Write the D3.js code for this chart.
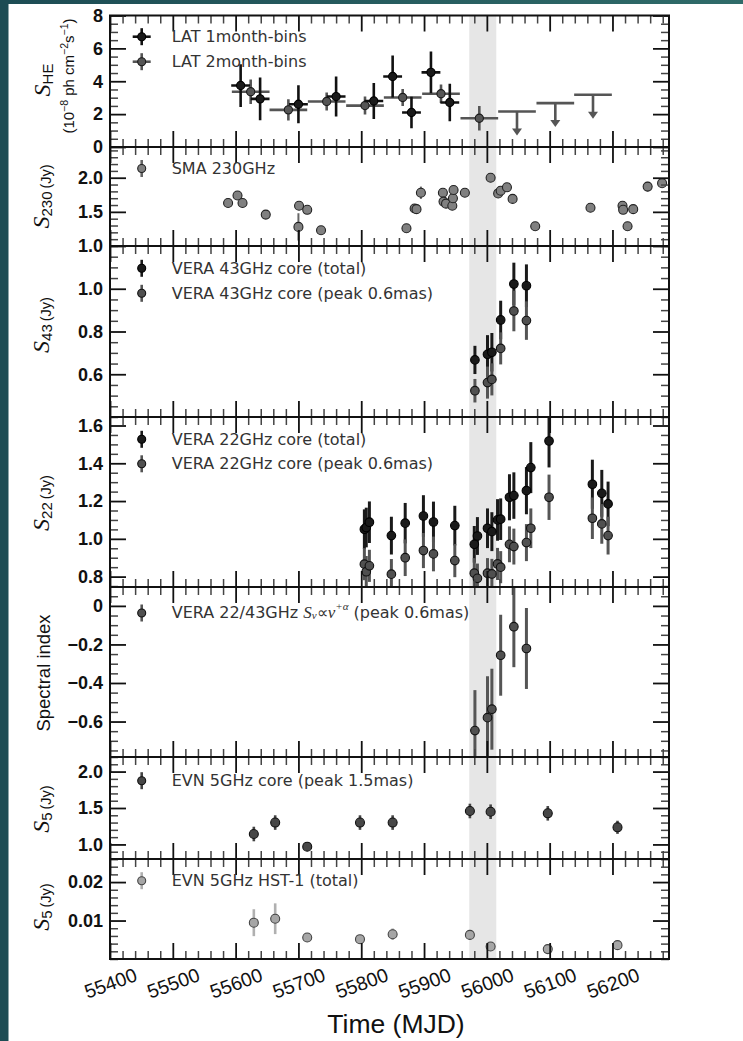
<!DOCTYPE html>
<html>
<head>
<meta charset="utf-8">
<script src="https://cdn.jsdelivr.net/npm/d3@7"></script>
<style>
  html, body { margin: 0; padding: 0; background: #fff; }
  svg { display: block; }
</style>
</head>
<body>
<svg id="fig" width="743" height="1041"></svg>
<script>
// ------------------------------------------------------------------
// Time axis (MJD)
// ------------------------------------------------------------------
const timeDomain = [55400, 56290];
const timeTicks = [55400, 55500, 55600, 55700, 55800, 55900, 56000, 56100, 56200];
const timeTickLabels = ["55400", "55500", "55600", "55700", "55800", "55900", "56000", "56100", "56200"];
const flareWindow = [55972, 56015];

// ------------------------------------------------------------------
// Fermi-LAT gamma-ray flux (1e-8 ph cm^-2 s^-1)
// ------------------------------------------------------------------
const lat1mMjd  = [55608, 55639, 55700, 55760, 55820, 55850, 55880, 55911, 55941];
const lat1mFlux = [3.74, 2.93, 2.60, 3.07, 2.80, 4.29, 2.10, 4.54, 2.71];
const lat1mErr  = [1.30, 1.30, 1.15, 1.22, 1.10, 1.28, 0.96, 1.27, 1.14];

const lat2mMjd  = [55624, 55684, 55745, 55806, 55866, 55927, 55988];
const lat2mFlux = [3.36, 2.26, 2.77, 2.52, 3.01, 3.24, 1.75];
const lat2mErr  = [0.75, 0.65, 0.55, 0.55, 0.52, 0.56, 0.75];
const lat2mUlMjd = [56048, 56109, 56169];
const lat2mUl    = [2.16, 2.67, 3.18];

// ------------------------------------------------------------------
// SMA 230 GHz (Jy)
// ------------------------------------------------------------------
const smaMjd  = [55588, 55603, 55611, 55648, 55700, 55701, 55714, 55736, 55872, 55885, 55888, 55895,
                 55930, 55931, 55935, 55945, 55946, 55947, 55965, 56006, 56018, 56022, 56032, 56041,
                 56077, 56165, 56216, 56217, 56224, 56233, 56256, 56279];
const smaFlux = [1.63, 1.74, 1.63, 1.46, 1.28, 1.59, 1.53, 1.23, 1.26, 1.55, 1.54, 1.78,
                 1.78, 1.65, 1.62, 1.59, 1.70, 1.82, 1.78, 2.00, 1.77, 1.81, 1.86, 1.69,
                 1.29, 1.56, 1.59, 1.53, 1.29, 1.54, 1.87, 1.92];
const smaErr  = [0.04, 0.05, 0.04, 0.04, 0.20, 0.04, 0.04, 0.04, 0.04, 0.05, 0.05, 0.09,
                 0.05, 0.08, 0.05, 0.05, 0.05, 0.05, 0.04, 0.05, 0.04, 0.04, 0.04, 0.05,
                 0.04, 0.04, 0.04, 0.05, 0.05, 0.04, 0.07, 0.05];

// ------------------------------------------------------------------
// VERA 43 GHz core (Jy)
// ------------------------------------------------------------------
const v43Mjd       = [55981, 56001, 56008, 56022, 56043, 56063];
const v43Total     = [0.667, 0.693, 0.703, 0.854, 1.022, 1.014];
const v43TotalErr  = [0.066, 0.090, 0.090, 0.090, 0.100, 0.100];
const v43Peak      = [0.523, 0.561, 0.576, 0.721, 0.896, 0.851];
const v43PeakErr   = [0.055, 0.075, 0.075, 0.075, 0.095, 0.090];

// ------------------------------------------------------------------
// VERA 22 GHz core (Jy)
// ------------------------------------------------------------------
const v22Mjd      = [55805, 55808, 55813, 55848, 55870, 55899, 55915, 55949, 55980, 55985, 56001,
                     56008, 56017, 56022, 56036, 56043, 56063, 56070, 56099, 56168, 56183, 56193];
const v22Total    = [1.051, 1.060, 1.088, 1.017, 1.083, 1.121, 1.089, 1.070, 0.971, 1.015, 1.056,
                     1.038, 1.100, 1.104, 1.220, 1.229, 1.255, 1.377, 1.518, 1.289, 1.241, 1.185];
const v22TotalErr = [0.105, 0.105, 0.110, 0.100, 0.107, 0.110, 0.108, 0.105, 0.097, 0.100, 0.105,
                     0.103, 0.110, 0.110, 0.122, 0.123, 0.125, 0.135, 0.140, 0.130, 0.124, 0.118];
const v22Peak     = [0.866, 0.826, 0.857, 0.813, 0.900, 0.938, 0.920, 0.885, 0.818, 0.791, 0.818,
                     0.814, 0.867, 0.850, 0.971, 0.959, 0.980, 1.056, 1.220, 1.109, 1.079, 1.017];
const v22PeakErr  = [0.085, 0.083, 0.085, 0.080, 0.097, 0.093, 0.092, 0.088, 0.080, 0.078, 0.080,
                     0.080, 0.085, 0.085, 0.095, 0.095, 0.098, 0.105, 0.120, 0.110, 0.105, 0.100];

// ------------------------------------------------------------------
// VERA 22/43 GHz spectral index (peak 0.6 mas)
// ------------------------------------------------------------------
const alphaMjd = [55981, 56001, 56008, 56022, 56043, 56063];
const alphaVal = [-0.647, -0.580, -0.536, -0.256, -0.108, -0.221];
const alphaErr = [0.21, 0.215, 0.21, 0.21, 0.21, 0.21];

// ------------------------------------------------------------------
// EVN 5 GHz: core (peak 1.5 mas) and HST-1 (total), Jy
// ------------------------------------------------------------------
const evnMjd     = [55629, 55663, 55714, 55798, 55850, 55973, 56006, 56097, 56208];
const evnCore    = [1.143, 1.300, 0.969, 1.300, 1.300, 1.459, 1.449, 1.427, 1.235];
const evnCoreErr = [0.10, 0.10, 0.06, 0.10, 0.10, 0.10, 0.10, 0.10, 0.09];
const hstFlux    = [0.00944, 0.01047, 0.0056, 0.00515, 0.00644, 0.00626, 0.00326, 0.00257, 0.0036];
const hstErr     = [0.0035, 0.0040, 0.0010, 0.0011, 0.0015, 0.0013, 0.0007, 0.0007, 0.0008];

// ------------------------------------------------------------------
// Y tick values / labels per panel
// ------------------------------------------------------------------
const heTicks = [0, 2, 4, 6, 8];            const heTickLabels = ["0", "2", "4", "6", "8"];
const smaTicks = [1.0, 1.5, 2.0];           const smaTickLabels = ["1.0", "1.5", "2.0"];
const v43Ticks = [0.6, 0.8, 1.0];           const v43TickLabels = ["0.6", "0.8", "1.0"];
const v22Ticks = [0.8, 1.0, 1.2, 1.4, 1.6]; const v22TickLabels = ["0.8", "1.0", "1.2", "1.4", "1.6"];
const alphaTicks = [-0.6, -0.4, -0.2, 0];   const alphaTickLabels = ["\u22120.6", "\u22120.4", "\u22120.2", "0"];
const coreTicks = [1.0, 1.5, 2.0];          const coreTickLabels = ["1.0", "1.5", "2.0"];
const hstTicks = [0.01, 0.02];              const hstTickLabels = ["0.01", "0.02"];

// ------------------------------------------------------------------
// Figure
// ------------------------------------------------------------------
const svg = d3.select("#fig");
const plotLeft = 110, plotRight = 669;

const tickFont = "'Liberation Sans', Arial, Helvetica, sans-serif";
const legendFont = "'DejaVu Sans', 'Bitstream Vera Sans', sans-serif";
const mathFont = "'Liberation Serif', 'Times New Roman', serif";

// page border strips
const defs = svg.append("defs");
const grad = defs.append("linearGradient").attr("id", "topStrip").attr("x1", 0).attr("x2", 1);
grad.append("stop").attr("offset", 0).attr("stop-color", "#1d4c54");
grad.append("stop").attr("offset", 1).attr("stop-color", "#2f6b69");
svg.append("rect").attr("x", 0).attr("y", 0).attr("width", 743).attr("height", 4).attr("fill", "url(#topStrip)");
svg.append("rect").attr("x", 0).attr("y", 0).attr("width", 8.5).attr("height", 1041).attr("fill", "#1d4c54");

const x = d3.scaleLinear().domain(timeDomain).range([plotLeft, plotRight]);

const panels = [
  { id: "he",    top: 15.5, bottom: 147, domain: [0, 8],          ticks: heTicks,    labels: heTickLabels,    minor: 0.5 },
  { id: "sma",   top: 147,  bottom: 246, domain: [1.0, 2.45],     ticks: smaTicks,   labels: smaTickLabels,   minor: 0.1 },
  { id: "v43",   top: 246,  bottom: 417, domain: [0.4, 1.2],      ticks: v43Ticks,   labels: v43TickLabels,   minor: 0.05 },
  { id: "v22",   top: 417,  bottom: 587, domain: [0.745, 1.645],  ticks: v22Ticks,   labels: v22TickLabels,   minor: 0.05 },
  { id: "alpha", top: 587,  bottom: 757, domain: [-0.784, 0.098], ticks: alphaTicks, labels: alphaTickLabels, minor: 0.05 },
  { id: "core",  top: 757,  bottom: 859, domain: [0.8, 2.2],      ticks: coreTicks,  labels: coreTickLabels,  minor: 0.1 },
  { id: "hst",   top: 859,  bottom: 959, domain: [0, 0.026],      ticks: hstTicks,   labels: hstTickLabels,   minor: 0.002 }
];

function minorValues(domain, step, majors) {
  const out = [];
  const i0 = Math.ceil(domain[0] / step - 1e-6), i1 = Math.floor(domain[1] / step + 1e-6);
  for (let i = i0; i <= i1; i++) {
    const v = +(i * step).toFixed(6);
    if (!majors.some(m => Math.abs(m - v) < step * 1e-3)) out.push(v);
  }
  return out;
}
const timeMinor = minorValues(timeDomain, 20, timeTicks);

function styleAxis(g, color, width) {
  g.select(".domain").remove();
  g.selectAll(".tick line").attr("stroke", color).attr("stroke-width", width);
}

// one y scale per panel
panels.forEach(p => { p.y = d3.scaleLinear().domain(p.domain).range([p.bottom, p.top]); });

// clip rectangles per panel
panels.forEach(p => {
  defs.append("clipPath").attr("id", "clip-" + p.id)
    .append("rect").attr("x", plotLeft).attr("y", p.top)
    .attr("width", plotRight - plotLeft).attr("height", p.bottom - p.top);
});

// shaded flare window in every panel
panels.forEach(p => {
  svg.append("rect")
    .attr("x", x(flareWindow[0])).attr("y", p.top)
    .attr("width", x(flareWindow[1]) - x(flareWindow[0])).attr("height", p.bottom - p.top)
    .attr("fill", "#e6e6e6");
});

// ------------------------------------------------------------------
// mark helpers
// ------------------------------------------------------------------
function layer(p) { return svg.append("g").attr("clip-path", `url(#clip-${p.id})`); }

function vErr(g, y, xs, vs, es, color, width) {
  g.append("g").selectAll("line").data(d3.range(xs.length)).join("line")
    .attr("x1", i => x(xs[i])).attr("x2", i => x(xs[i]))
    .attr("y1", i => y(vs[i] - es[i])).attr("y2", i => y(vs[i] + es[i]))
    .attr("stroke", color).attr("stroke-width", width);
}
function hErr(g, y, xs, vs, half, color, width) {
  g.append("g").selectAll("line").data(d3.range(xs.length)).join("line")
    .attr("x1", i => x(xs[i] - half)).attr("x2", i => x(xs[i] + half))
    .attr("y1", i => y(vs[i])).attr("y2", i => y(vs[i]))
    .attr("stroke", color).attr("stroke-width", width);
}
function dots(g, y, xs, vs, fill, stroke, r) {
  g.append("g").selectAll("circle").data(d3.range(xs.length)).join("circle")
    .attr("cx", i => x(xs[i])).attr("cy", i => y(vs[i])).attr("r", r)
    .attr("fill", fill).attr("stroke", stroke).attr("stroke-width", 1.1);
}

// ------------------------------------------------------------------
// Panel 1: LAT
// ------------------------------------------------------------------
{
  const p = panels[0], g = layer(p);
  // 2-month bins
  hErr(g, p.y, lat2mMjd, lat2mFlux, 30, "#555", 2.6);
  vErr(g, p.y, lat2mMjd, lat2mFlux, lat2mErr, "#555", 2.6);
  dots(g, p.y, lat2mMjd, lat2mFlux, "#555", "#1a1a1a", 4.1);
  // 2-month upper limits
  hErr(g, p.y, lat2mUlMjd, lat2mUl, 30, "#555", 2.6);
  const ul = g.append("g").selectAll("g").data(d3.range(lat2mUlMjd.length)).join("g")
    .attr("transform", i => `translate(${x(lat2mUlMjd[i])},${p.y(lat2mUl[i])})`);
  ul.append("line").attr("x1", 0).attr("x2", 0).attr("y1", 0).attr("y2", 18)
    .attr("stroke", "#555").attr("stroke-width", 2.6);
  ul.append("path").attr("d", "M-5,17 L5,17 L0,24 Z").attr("fill", "#555");
  // 1-month bins
  hErr(g, p.y, lat1mMjd, lat1mFlux, 15, "#111", 2.6);
  vErr(g, p.y, lat1mMjd, lat1mFlux, lat1mErr, "#111", 2.6);
  dots(g, p.y, lat1mMjd, lat1mFlux, "#1a1a1a", "#000", 4.1);
}

// Panel 2: SMA
{
  const p = panels[1], g = layer(p);
  vErr(g, p.y, smaMjd, smaFlux, smaErr, "#666", 2);
  dots(g, p.y, smaMjd, smaFlux, "#808080", "#222", 4.5);
}

// Panel 3: VERA 43 GHz
{
  const p = panels[2], g = layer(p);
  vErr(g, p.y, v43Mjd, v43Total, v43TotalErr, "#1a1a1a", 3);
  dots(g, p.y, v43Mjd, v43Total, "#1a1a1a", "#000", 4.3);
  vErr(g, p.y, v43Mjd, v43Peak, v43PeakErr, "#555", 3);
  dots(g, p.y, v43Mjd, v43Peak, "#505050", "#111", 4.3);
}

// Panel 4: VERA 22 GHz
{
  const p = panels[3], g = layer(p);
  vErr(g, p.y, v22Mjd, v22Total, v22TotalErr, "#1a1a1a", 3);
  dots(g, p.y, v22Mjd, v22Total, "#1a1a1a", "#000", 4.3);
  vErr(g, p.y, v22Mjd, v22Peak, v22PeakErr, "#555", 3);
  dots(g, p.y, v22Mjd, v22Peak, "#505050", "#111", 4.3);
}

// Panel 5: spectral index
{
  const p = panels[4], g = layer(p);
  vErr(g, p.y, alphaMjd, alphaVal, alphaErr, "#555", 3);
  dots(g, p.y, alphaMjd, alphaVal, "#505050", "#111", 4.3);
}

// Panel 6: EVN core
{
  const p = panels[5], g = layer(p);
  vErr(g, p.y, evnMjd, evnCore, evnCoreErr, "#444", 2.6);
  dots(g, p.y, evnMjd, evnCore, "#474747", "#111", 4.5);
}

// Panel 7: EVN HST-1
{
  const p = panels[6], g = layer(p);
  vErr(g, p.y, evnMjd, hstFlux, hstErr, "#b0b0b0", 2.6);
  dots(g, p.y, evnMjd, hstFlux, "#a6a6a6", "#444", 4.5);
}

// ------------------------------------------------------------------
// axes: inward ticks on all four sides of every panel
// ------------------------------------------------------------------
const majorLen = 16, minorLen = 8;
panels.forEach((p, k) => {
  const yMinor = minorValues(p.domain, p.minor, p.ticks);
  const lab = d => { const i = p.ticks.indexOf(d); return i >= 0 ? p.labels[i] : ""; };

  // left
  const gl = svg.append("g").attr("transform", `translate(${plotLeft},0)`)
    .call(d3.axisLeft(p.y).tickValues(yMinor).tickSizeInner(-minorLen).tickSizeOuter(0).tickFormat(""));
  styleAxis(gl, "#444", 1.5);
  const gL = svg.append("g").attr("transform", `translate(${plotLeft},0)`)
    .call(d3.axisLeft(p.y).tickValues(p.ticks).tickSizeInner(-majorLen).tickSizeOuter(0).tickPadding(7).tickFormat(lab));
  styleAxis(gL, "#111", 1.8);
  gL.selectAll("text").attr("font-family", tickFont).attr("font-weight", "bold")
    .attr("font-size", 18).attr("fill", "#111");

  // right
  const gr = svg.append("g").attr("transform", `translate(${plotRight},0)`)
    .call(d3.axisRight(p.y).tickValues(yMinor).tickSizeInner(-minorLen).tickSizeOuter(0).tickFormat(""));
  styleAxis(gr, "#444", 1.5);
  const gR = svg.append("g").attr("transform", `translate(${plotRight},0)`)
    .call(d3.axisRight(p.y).tickValues(p.ticks).tickSizeInner(-majorLen).tickSizeOuter(0).tickFormat(""));
  styleAxis(gR, "#111", 1.8);

  // top
  const gt = svg.append("g").attr("transform", `translate(0,${p.top})`)
    .call(d3.axisTop(x).tickValues(timeMinor).tickSizeInner(-minorLen).tickSizeOuter(0).tickFormat(""));
  styleAxis(gt, "#444", 1.5);
  const gT = svg.append("g").attr("transform", `translate(0,${p.top})`)
    .call(d3.axisTop(x).tickValues(timeTicks).tickSizeInner(-majorLen).tickSizeOuter(0).tickFormat(""));
  styleAxis(gT, "#111", 1.8);

  // bottom
  const last = k === panels.length - 1;
  const gb = svg.append("g").attr("transform", `translate(0,${p.bottom})`)
    .call(d3.axisBottom(x).tickValues(timeMinor).tickSizeInner(-minorLen).tickSizeOuter(0).tickFormat(""));
  styleAxis(gb, "#444", 1.5);
  const gB = svg.append("g").attr("transform", `translate(0,${p.bottom})`)
    .call(d3.axisBottom(x).tickValues(timeTicks).tickSizeInner(-majorLen).tickSizeOuter(0)
      .tickFormat(last ? (d => timeTickLabels[timeTicks.indexOf(d)]) : ""));
  styleAxis(gB, "#111", 1.8);
  if (last) {
    gB.selectAll("text")
      .attr("y", null).attr("dy", null)
      .attr("dominant-baseline", "central")
      .attr("transform", "translate(0,24) rotate(-20)")
      .attr("font-family", tickFont).attr("font-size", 19.5).attr("fill", "#111");
  }

  // frame
  svg.append("rect").attr("x", plotLeft).attr("y", p.top)
    .attr("width", plotRight - plotLeft).attr("height", p.bottom - p.top)
    .attr("fill", "none").attr("stroke", "#111").attr("stroke-width", 2);
});

// x-axis title
svg.append("text").attr("x", 396).attr("y", 1033).attr("text-anchor", "middle")
  .attr("font-family", tickFont).attr("font-size", 26.5).attr("fill", "#111").text("Time (MJD)");

// ------------------------------------------------------------------
// y-axis titles (rotated)
// ------------------------------------------------------------------
function fluxTitle(cx, cy, sub, unit) {
  const t = svg.append("text").attr("transform", `translate(${cx},${cy}) rotate(-90)`)
    .attr("text-anchor", "middle").attr("fill", "#111");
  t.append("tspan").attr("font-family", mathFont).attr("font-style", "italic").attr("font-size", 24).text("S");
  t.append("tspan").attr("font-family", tickFont).attr("font-size", 15).attr("dy", 3).text(sub);
  if (unit) t.append("tspan").attr("font-family", tickFont).attr("font-size", 14.5).attr("dy", -1).text("\u2009" + unit);
  return t;
}
fluxTitle(50, 80, "HE", null);
{
  const t = svg.append("text").attr("transform", "translate(73.5,76) rotate(-90)")
    .attr("text-anchor", "middle").attr("fill", "#111")
    .attr("font-family", tickFont).attr("font-size", 15);
  t.append("tspan").text("(10");
  t.append("tspan").attr("font-size", 10.5).attr("dy", -6).text("\u22128");
  t.append("tspan").attr("dy", 6).text(" ph cm");
  t.append("tspan").attr("font-size", 10.5).attr("dy", -6).text("\u22122");
  t.append("tspan").attr("dy", 6).text("s");
  t.append("tspan").attr("font-size", 10.5).attr("dy", -6).text("\u22121");
  t.append("tspan").attr("dy", 6).text(")");
}
fluxTitle(49, 196.5, "230", "(Jy)");
fluxTitle(49, 325, "43", "(Jy)");
fluxTitle(49, 503, "22", "(Jy)");
svg.append("text").attr("transform", "translate(49.5,673) rotate(-90)")
  .attr("text-anchor", "middle").attr("font-family", tickFont).attr("font-size", 18.5)
  .attr("fill", "#111").text("Spectral index");
fluxTitle(49, 809, "5", "(Jy)");
fluxTitle(49, 907, "5", "(Jy)");

// ------------------------------------------------------------------
// legends
// ------------------------------------------------------------------
const legX = 141.7, legTextX = 171.7;
function legendMarker(cy, fill, stroke, bar, hbar) {
  const g = svg.append("g");
  g.append("line").attr("x1", legX).attr("x2", legX).attr("y1", cy - 8.5).attr("y2", cy + 8.5)
    .attr("stroke", bar).attr("stroke-width", 2.6);
  if (hbar) g.append("line").attr("x1", legX - 9).attr("x2", legX + 9).attr("y1", cy).attr("y2", cy)
    .attr("stroke", bar).attr("stroke-width", 2.6);
  g.append("circle").attr("cx", legX).attr("cy", cy).attr("r", 4).attr("fill", fill)
    .attr("stroke", stroke).attr("stroke-width", 1.1);
}
function legendText(cy, str) {
  return svg.append("text").attr("x", legTextX).attr("y", cy).attr("dominant-baseline", "central")
    .attr("font-family", legendFont).attr("font-size", 16).attr("fill", "#333").text(str);
}

legendMarker(36.7, "#1a1a1a", "#000", "#111", true);   legendText(36.7, "LAT 1month-bins");
legendMarker(61.7, "#555", "#1a1a1a", "#555", true);   legendText(61.7, "LAT 2month-bins");
legendMarker(168.5, "#808080", "#222", "#666", false); legendText(168.5, "SMA 230GHz");
legendMarker(268.3, "#1a1a1a", "#000", "#1a1a1a", false); legendText(268.3, "VERA 43GHz core (total)");
legendMarker(293.3, "#505050", "#111", "#555", false);    legendText(293.3, "VERA 43GHz core (peak 0.6mas)");
legendMarker(439.3, "#1a1a1a", "#000", "#1a1a1a", false); legendText(439.3, "VERA 22GHz core (total)");
legendMarker(463.8, "#505050", "#111", "#555", false);    legendText(463.8, "VERA 22GHz core (peak 0.6mas)");
legendMarker(613, "#505050", "#111", "#555", false);
{
  const t = legendText(612, "VERA 22/43GHz ");
  t.append("tspan").attr("font-family", mathFont).attr("font-style", "italic").attr("font-size", 17).text("S");
  t.append("tspan").attr("font-family", mathFont).attr("font-style", "italic").attr("font-size", 11).attr("dy", 3).text("\u03bd");
  t.append("tspan").attr("font-family", mathFont).attr("font-size", 16).attr("dy", -3).text("\u221d");
  t.append("tspan").attr("font-family", mathFont).attr("font-style", "italic").attr("font-size", 17).text("\u03bd");
  t.append("tspan").attr("font-family", mathFont).attr("font-style", "italic").attr("font-size", 11).attr("dy", -6).text("+\u03b1");
  t.append("tspan").attr("dy", 6).text(" (peak 0.6mas)");
}
legendMarker(780.7, "#474747", "#111", "#444", false);  legendText(780.7, "EVN 5GHz core (peak 1.5mas)");
legendMarker(880.7, "#a6a6a6", "#444", "#b0b0b0", false); legendText(880.7, "EVN 5GHz HST-1 (total)");
</script>
</body>
</html>
